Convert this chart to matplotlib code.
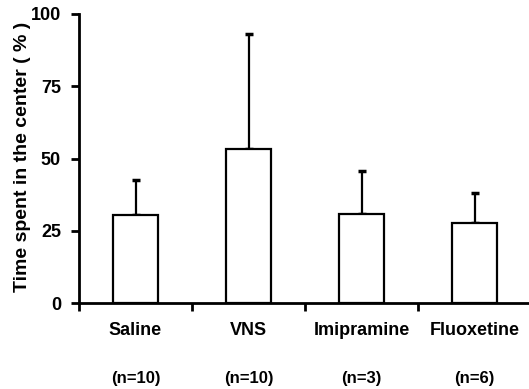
import matplotlib
matplotlib.use("Agg")
import matplotlib.pyplot as plt

# group names, sample sizes and values
groups = ["Saline", "VNS", "Imipramine", "Fluoxetine"]
n_sizes = ["(n=10)", "(n=10)", "(n=3)", "(n=6)"]
means = [30.3, 53.4, 30.7, 27.6]
err_up = [12.2, 39.8, 14.9, 10.5]

plt.rcParams['font.family'] = ['Liberation Sans', 'DejaVu Sans']

fig = plt.figure(figsize=(5.29, 3.89), dpi=100)
ax = fig.add_axes([79/529, 86/389, 452/529, 289/389])

x = list(range(len(groups)))
ax.bar(x, means, width=0.4, color="white", edgecolor="black", linewidth=1.6, zorder=2)
ax.errorbar(x, means, yerr=[[0]*len(means), err_up], fmt="none", ecolor="black",
            elinewidth=1.6, capsize=3, capthick=2.5, zorder=1)

ax.set_xlim(-0.5, 3.5)
ax.set_ylim(0, 100)
ax.set_yticks([0, 25, 50, 75, 100])
ax.set_xticks([-0.5, 0.5, 1.5, 2.5, 3.5])
ax.set_xticklabels([])
for side in ["top", "right"]:
    ax.spines[side].set_visible(False)
for side in ["left", "bottom"]:
    ax.spines[side].set_linewidth(2)
ax.tick_params(axis="both", direction="out", length=6, width=2, labelsize=13, pad=7)
for lab in ax.get_yticklabels():
    lab.set_fontweight("bold")

for i in x:
    ax.text(i, -9.5, groups[i], ha="center", va="center", fontsize=13, fontweight="bold")
    ax.text(i, -26, n_sizes[i], ha="center", va="center", fontsize=12, fontweight="bold")

ax.set_ylabel("Time spent in the center ( % )", fontsize=14, fontweight="bold")
ax.yaxis.set_label_coords(-0.106, 0.505)

fig.savefig("out.png", dpi=100)
